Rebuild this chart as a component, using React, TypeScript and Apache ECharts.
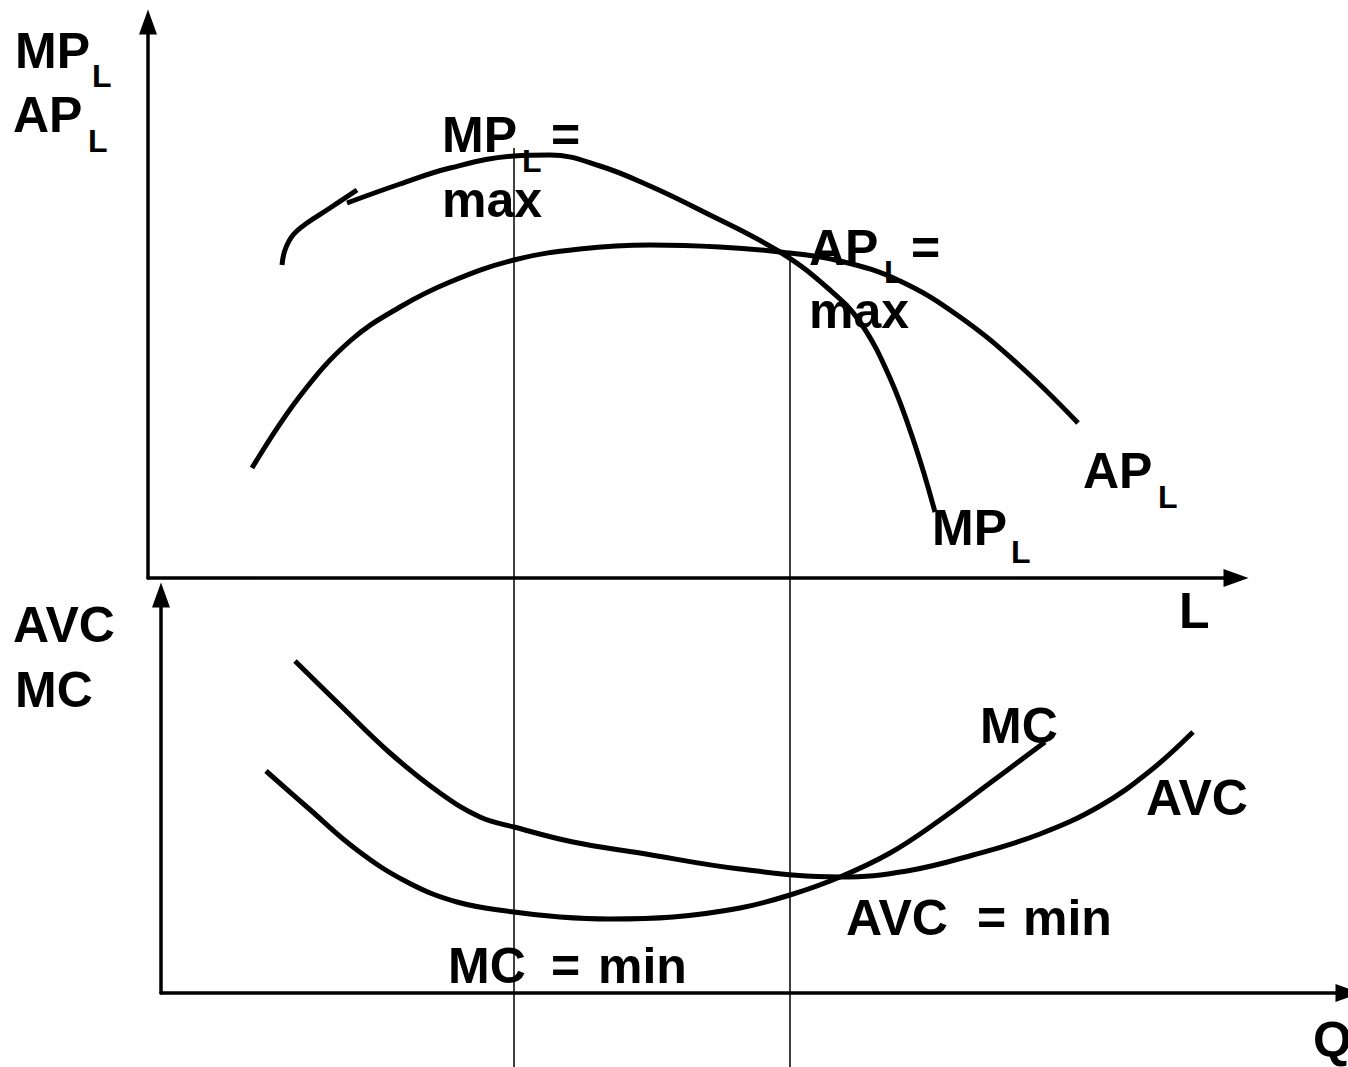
import React, { useEffect, useRef } from "react";
import * as echarts from "echarts";

// Upper panel: L (units from origin) vs product per unit of labour
const apL: number[][] = [
  [104, 110], [152, 182], [202, 237], [252, 271], [302, 296], [366, 318], [432, 329],
  [502, 333], [572, 331], [632, 326], [692, 317], [752, 297], [812, 261], [872, 212], [930, 155],
];
const mpLStart: number[][] = [[134, 313], [137, 328], [145, 343], [159, 355], [182, 370], [209, 388]];
const mpL: number[][] = [
  [199, 375], [252, 394], [302, 410], [366, 422], [402, 423], [452, 412], [502, 392],
  [552, 368], [632, 326], [682, 288], [712, 256], [742, 200], [767, 133], [787, 66],
];
// Lower panel: Q vs cost per unit
const avc: number[][] = [
  [134, 332], [179, 288], [229, 240], [279, 200], [319, 176], [353, 166], [412, 151],
  [479, 140], [579, 124], [679, 116], [746, 122], [812, 138], [879, 159], [939, 187],
  [989, 222], [1032, 261],
];
const mc: number[][] = [
  [105, 222], [146, 186], [196, 143], [246, 111], [296, 91], [353, 81], [399, 76], [449, 74],
  [512, 76], [579, 85], [629, 98], [679, 116], [729, 140], [779, 173], [829, 210], [884, 251],
];
// Guide lines (in upper-panel units): L at MP max and at AP max
const guideL = [366, 642];
const guideTop = [430, 325];
const guideBottom = -489;

const FONT = "'Liberation Sans', Arial, Helvetica, sans-serif";

function txt(text: string, x: number, baseline: number, size: number) {
  return {
    type: "text",
    x,
    y: baseline - 0.35 * size,
    style: {
      text,
      font: `bold ${size}px ${FONT}`,
      fill: "#000",
      align: "left",
      verticalAlign: "middle",
    },
  };
}

export default function App() {
  const ref = useRef<HTMLDivElement>(null);
  useEffect(() => {
    if (!ref.current) return;
    const chart = echarts.init(ref.current, undefined, { renderer: "svg" });
    const big = 50;
    const sub = 32;
    const axisStyle = {
      show: true,
      symbol: ["none", "triangle"],
      symbolSize: [18, 25],
      lineStyle: { color: "#000", width: 3.5 },
    };
    const hidden = {
      axisLabel: { show: false },
      axisTick: { show: false },
      splitLine: { show: false },
    };
    const curve = (data: number[][], xi: number) => ({
      type: "line",
      xAxisIndex: xi,
      yAxisIndex: xi,
      data,
      smooth: 0.4,
      symbol: "none",
      lineStyle: { color: "#000", width: 5, cap: "butt" },
      silent: true,
      z: 3,
    });
    const guide = (i: number) => ({
      type: "line",
      xAxisIndex: 0,
      yAxisIndex: 0,
      data: [[guideL[i], guideTop[i]], [guideL[i], guideBottom]],
      clip: false,
      symbol: "none",
      lineStyle: { color: "#000", width: 1.5 },
      silent: true,
      z: 1,
    });
    chart.setOption({
      animation: false,
      backgroundColor: "#fff",
      grid: [
        { left: 148, top: 22, width: 1088, height: 556 },
        { left: 161, top: 595, width: 1187, height: 398 },
      ],
      xAxis: [
        { type: "value", gridIndex: 0, min: 0, max: 1088, axisLine: axisStyle, ...hidden },
        { type: "value", gridIndex: 1, min: 0, max: 1187, axisLine: axisStyle, ...hidden },
      ],
      yAxis: [
        { type: "value", gridIndex: 0, min: 0, max: 556, axisLine: axisStyle, ...hidden },
        { type: "value", gridIndex: 1, min: 0, max: 398, axisLine: axisStyle, ...hidden },
      ],
      series: [
        guide(0),
        guide(1),
        curve(apL, 0),
        curve(mpLStart, 0),
        curve(mpL, 0),
        curve(avc, 1),
        curve(mc, 1),
      ],
      graphic: [
        txt("MP", 15, 68, big),
        txt("L", 92, 87, sub),
        txt("AP", 13, 132, big),
        txt("L", 88, 152, sub),
        txt("MP", 442, 152, big),
        txt("L", 522, 172, sub),
        txt("=", 551, 152, big),
        txt("max", 442, 217, big),
        txt("AP", 809, 265, big),
        txt("L", 884, 283, sub),
        txt("=", 911, 265, big),
        txt("max", 809, 328, big),
        txt("AP", 1083, 488, big),
        txt("L", 1158, 508, sub),
        txt("MP", 932, 545, big),
        txt("L", 1011, 563, sub),
        txt("L", 1179, 628, big),
        txt("AVC", 13, 642, big),
        txt("MC", 15, 707, big),
        txt("MC", 980, 743, big),
        txt("AVC", 1146, 815, big),
        txt("AVC", 846, 935, big),
        txt("=", 977, 935, big),
        txt("min", 1023, 935, big),
        txt("MC", 448, 983, big),
        txt("=", 551, 983, big),
        txt("min", 598, 983, big),
        txt("Q", 1313, 1057, big),
      ],
    });
    return () => chart.dispose();
  }, []);
  return (
    <div
      ref={ref}
      style={{ position: "absolute", left: 0, top: 0, width: 1348, height: 1067, background: "#fff" }}
    />
  );
}
